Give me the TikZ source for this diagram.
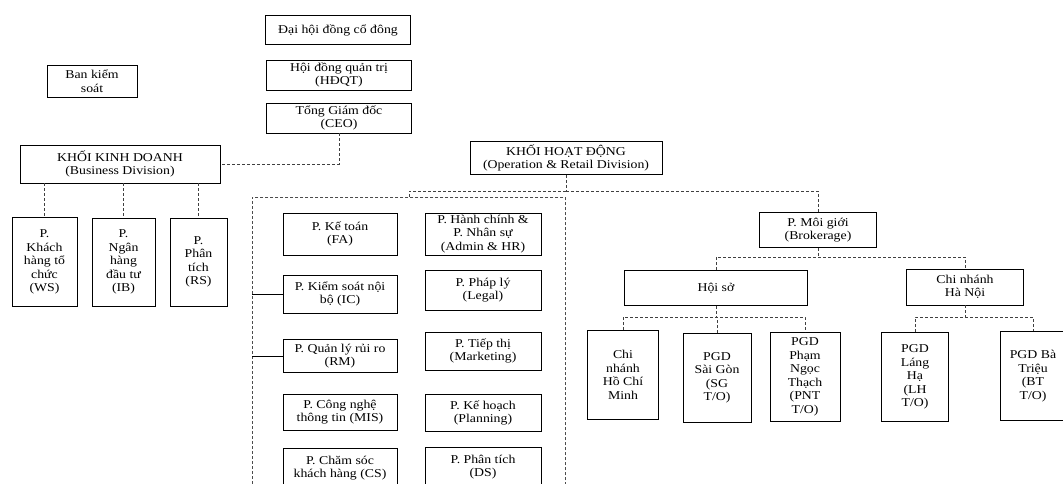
\documentclass[tikz,border=0pt]{standalone}
\usepackage{fontspec}
\setmainfont{Liberation Serif}[FakeStretch=1.15]
\tikzset{
	box/.style={draw=black, line width=0.8pt, align=center, inner sep=2pt,
		font=\fontsize{12}{13.5}\selectfont},
	link/.style={draw=black!75, densely dashed, line width=0.5pt},
	frame/.style={draw=black!70, densely dashed, line width=0.6pt}
}
\begin{document}
\begin{tikzpicture}[x=1pt, y=-1pt]
	\useasboundingbox (0,0) rectangle (1063,484);
	% Leitung oben
	\node[box, minimum width=145, minimum height=29] (dhdcd) at (338,30) {Đại hội đồng cổ đông};
	\node[box, minimum width=145, minimum height=30] (hdqt) at (339,75) {Hội đồng quản trị\\(HĐQT)};
	\node[box, minimum width=145, minimum height=30] (ceo) at (339,118) {Tổng Giám đốc\\(CEO)};
	\node[box, minimum width=90, minimum height=32] (bks) at (92,81) {Ban kiểm\\soát};

	% Khoi kinh doanh
	\node[box, minimum width=200, minimum height=38] (kkd) at (120,164) {KHỐI KINH DOANH\\(Business Division)};
	\node[box, minimum width=65, minimum height=89] (ws) at (44.5,262) {P.\\Khách\\hàng tổ\\chức\\(WS)};
	\node[box, minimum width=63, minimum height=88] (ib) at (123.5,262) {P.\\Ngân\\hàng\\đầu tư\\(IB)};
	\node[box, minimum width=57, minimum height=88] (rs) at (198.5,262) {P.\\Phân\\tích\\(RS)};
	\draw[link] (ceo.south) |- (kkd.east);
	\foreach \kid in {ws,ib,rs}
		\draw[link] (kkd.south -| \kid.north) -- (\kid.north);

	% Khoi hoat dong
	\node[box, minimum width=192, minimum height=33] (khd) at (566,158) {KHỐI HOẠT ĐỘNG\\(Operation \& Retail Division)};
	\node[frame, minimum width=313, minimum height=300, anchor=north west] (khoi) at (252,197) {};
	\coordinate (khdj) at (566,191);
	\draw[link] (khd.south) -- (khdj);
	\draw[link] (khdj) -| (khoi.north);

	% Phong ban, linke Spalte
	\node[box, minimum width=114, minimum height=42] (fa) at (340,234) {P. Kế toán\\(FA)};
	\node[box, minimum width=114, minimum height=38] (ic) at (340,294) {P. Kiểm soát nội\\bộ (IC)};
	\node[box, minimum width=114, minimum height=33] (rm) at (340,356) {P. Quản lý rủi ro\\(RM)};
	\node[box, minimum width=114, minimum height=36] (mis) at (340,412) {P. Công nghệ\\thông tin (MIS)};
	\node[box, minimum width=114, minimum height=40] (cs) at (340,468) {P. Chăm sóc\\khách hàng (CS)};
	% Phong ban, rechte Spalte
	\node[box, minimum width=116, minimum height=42] (admin) at (483,234) {P. Hành chính \&\\P. Nhân sự\\(Admin \& HR)};
	\node[box, minimum width=116, minimum height=40] (legal) at (483,290) {P. Pháp lý\\(Legal)};
	\node[box, minimum width=116, minimum height=38] (mkt) at (483,351) {P. Tiếp thị\\(Marketing)};
	\node[box, minimum width=116, minimum height=37] (plan) at (483,413) {P. Kế hoạch\\(Planning)};
	\node[box, minimum width=116, minimum height=40] (ds) at (483,467) {P. Phân tích\\(DS)};
	\draw[line width=0.6pt] (khoi.west |- ic.west) -- (ic.west);
	\draw[line width=0.6pt] (khoi.west |- rm.west) -- (rm.west);

	% Moi gioi
	\node[box, minimum width=117, minimum height=35] (mg) at (818,230) {P. Môi giới\\(Brokerage)};
	\draw[link] (khdj) -| (mg.north);
	\node[box, minimum width=183, minimum height=35] (hs) at (716,288) {Hội sở};
	\node[box, minimum width=117, minimum height=36] (cnhn) at (965,287) {Chi nhánh\\Hà Nội};
	\draw[link] (hs.north) -- ++(0,-13) coordinate (mgj) -| (cnhn.north);
	\draw[link] (mg.south) -- (mg.south |- mgj);

	% Chi nhanh und PGD
	\node[box, minimum width=71, minimum height=89] (hcm) at (623,375) {Chi\\nhánh\\Hồ Chí\\Minh};
	\node[box, minimum width=68, minimum height=89] (sg) at (717,378) {PGD\\Sài Gòn\\(SG\\T/O)};
	\node[box, minimum width=70, minimum height=89] (pnt) at (805,377) {PGD\\Phạm\\Ngọc\\Thạch\\(PNT\\T/O)};
	\node[box, minimum width=67, minimum height=89] (lh) at (915,377) {PGD\\Láng\\Hạ\\(LH\\T/O)};
	\node[box, minimum width=66, minimum height=89] (bt) at (1033,376) {PGD Bà\\Triệu\\(BT\\T/O)};
	\draw[link] (hcm.north) -- ++(0,-13) coordinate (hsj) -| (pnt.north);
	\draw[link] (hs.south) -- (hs.south |- hsj);
	\draw[link] (sg.north) -- (sg.north |- hsj);
	\draw[link] (lh.north) -- ++(0,-15) coordinate (hnj) -| (bt.north);
	\draw[link] (cnhn.south) -- (cnhn.south |- hnj);
\end{tikzpicture}
\end{document}
